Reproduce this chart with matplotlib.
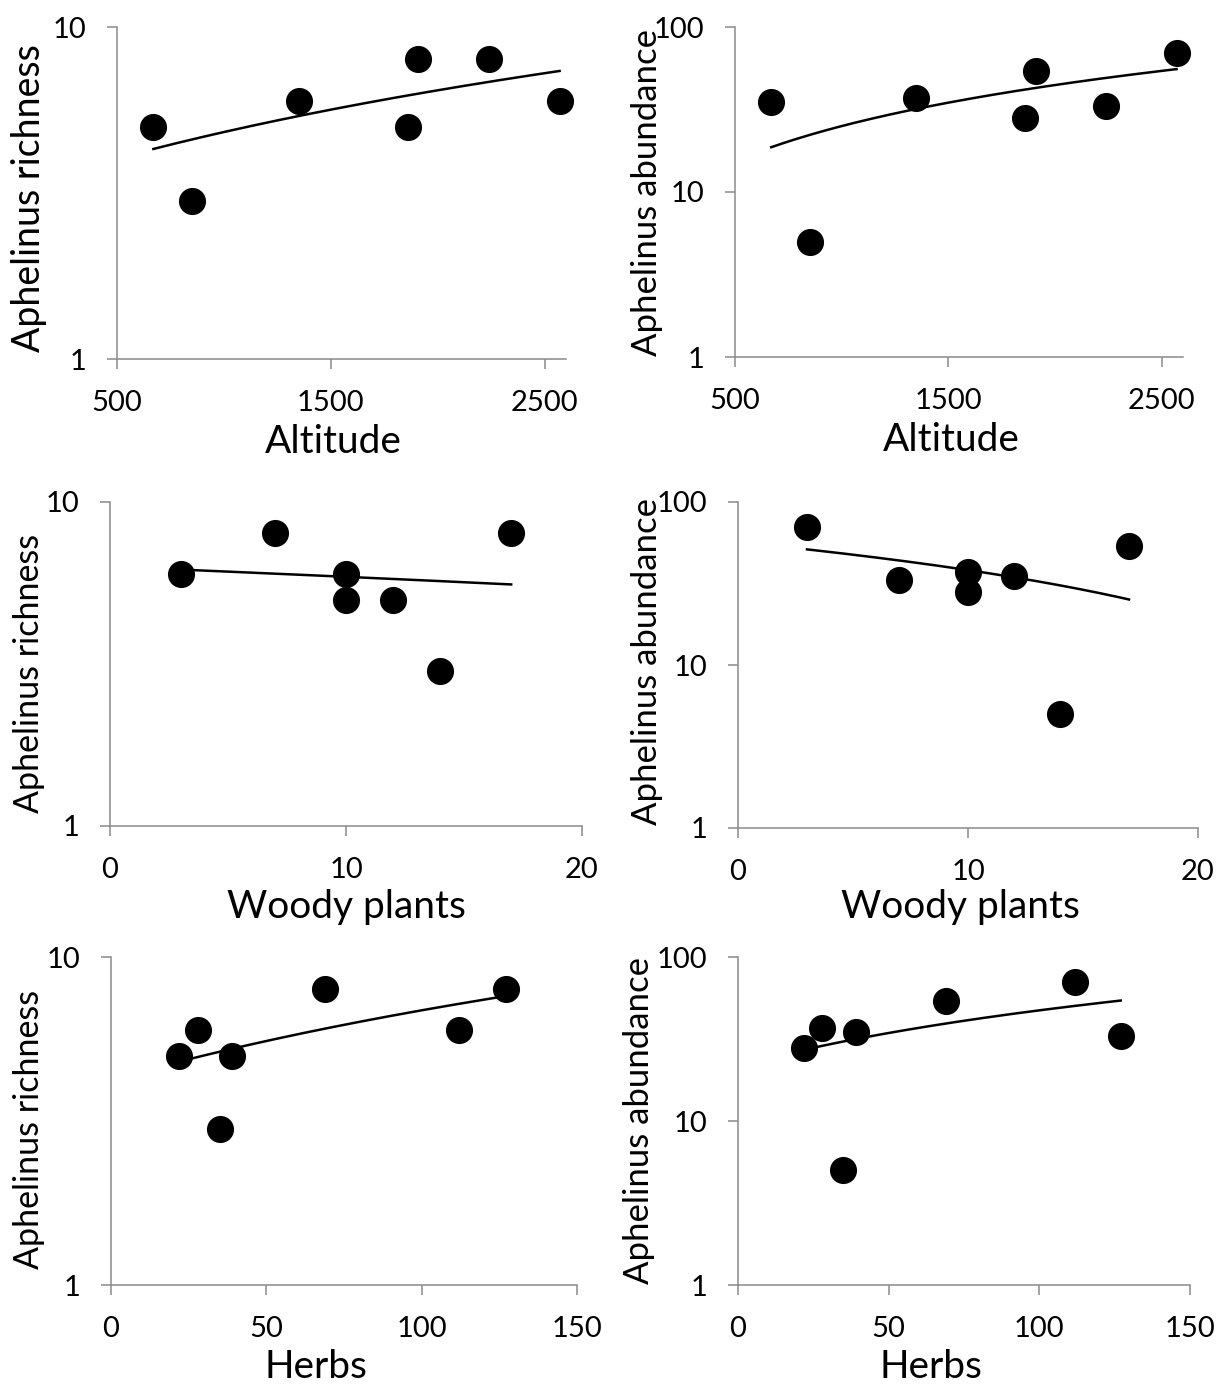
import matplotlib
matplotlib.use("Agg")
import matplotlib.pyplot as plt
from matplotlib.ticker import FixedLocator, NullLocator
import numpy as np

plt.rcParams['font.family'] = ['Lato', 'DejaVu Sans']

# one value per site, sites ordered by altitude
altitude = [670, 850, 1350, 1860, 1910, 2240, 2570]
woody_plants = [12, 14, 10, 10, 17, 7, 3]
herbs = [39, 35, 28, 22, 69, 127, 112]
richness = [5, 3, 6, 5, 8, 8, 6]
abundance = [35, 5, 37, 28, 54, 33, 70]

alt_ticks = [500, 1500, 2500]
woody_ticks = [0, 10, 20]
herb_ticks = [0, 50, 100, 150]
rich_ticks = [1, 10]
abun_ticks = [1, 10, 100]

W, H = 1217, 1386
GRAY = '#8a8a8a'

fig = plt.figure(figsize=(W / 100, H / 100), dpi=100)


def rect(l, r, t, b):
    return [l / W, 1 - b / H, (r - l) / W, (b - t) / H]


# x, y, xlabel, ylabel, xticks, xlim, yticks, axes box (px), xlabel pos, ylabel pos, ylabel size
panels = [
    (altitude, richness, 'Altitude', 'Aphelinus richness', alt_ticks, (500, 2600), rich_ticks,
     (117, 566, 27, 359), (333, 442), (29, 198), 27),
    (altitude, abundance, 'Altitude', 'Aphelinus abundance', alt_ticks, (500, 2600), abun_ticks,
     (735, 1183, 27, 357), (951, 440), (647, 193), 25),
    (woody_plants, richness, 'Woody plants', 'Aphelinus richness', woody_ticks, (0, 20), rich_ticks,
     (110, 582, 502, 826), (346, 907), (29, 673), 24.5),
    (woody_plants, abundance, 'Woody plants', 'Aphelinus abundance', woody_ticks, (0, 20), abun_ticks,
     (738, 1198, 502, 828), (960, 907), (647, 661), 25),
    (herbs, richness, 'Herbs', 'Aphelinus richness', herb_ticks, (0, 150), rich_ticks,
     (111, 577, 957, 1285), (316, 1367), (29, 1129), 24.5),
    (herbs, abundance, 'Herbs', 'Aphelinus abundance', herb_ticks, (0, 150), abun_ticks,
     (738, 1190, 957, 1285), (931, 1367), (639, 1121), 25),
]

for x, y, xlab, ylab, xt, xlim, yt, box, xlpos, ylpos, ylsize in panels:
    ax = fig.add_axes(rect(*box))
    ax.set_yscale('log')
    ax.set_xlim(*xlim)
    ax.set_ylim(yt[0], yt[-1])
    ax.yaxis.set_major_locator(FixedLocator(yt))
    ax.yaxis.set_minor_locator(NullLocator())
    ax.set_yticklabels([str(v) for v in yt])
    ax.set_xticks(xt)
    ax.set_xticklabels([str(v) for v in xt])

    for s in ['top', 'right']:
        ax.spines[s].set_visible(False)
    for s in ['left', 'bottom']:
        ax.spines[s].set_color(GRAY)
        ax.spines[s].set_linewidth(1.1)
    ax.tick_params(direction='out', length=7, width=1.1, color=GRAY, labelsize=21, pad=15)

    # linear least-squares trendline on the raw values (bends on the log axis)
    slope, icpt = np.polyfit(x, y, 1)
    xs = np.linspace(min(x), max(x), 200)
    ax.plot(xs, icpt + slope * xs, color='black', lw=1.8, zorder=2)

    ax.plot(x, y, 'o', ms=18.5, color='black', zorder=3, clip_on=False)

    fig.text(xlpos[0] / W, 1 - xlpos[1] / H, xlab, ha='center', va='center', fontsize=28)
    fig.text(ylpos[0] / W, 1 - ylpos[1] / H, ylab, ha='center', va='center', rotation=90, fontsize=ylsize)

fig.savefig('out.png', dpi=100)
